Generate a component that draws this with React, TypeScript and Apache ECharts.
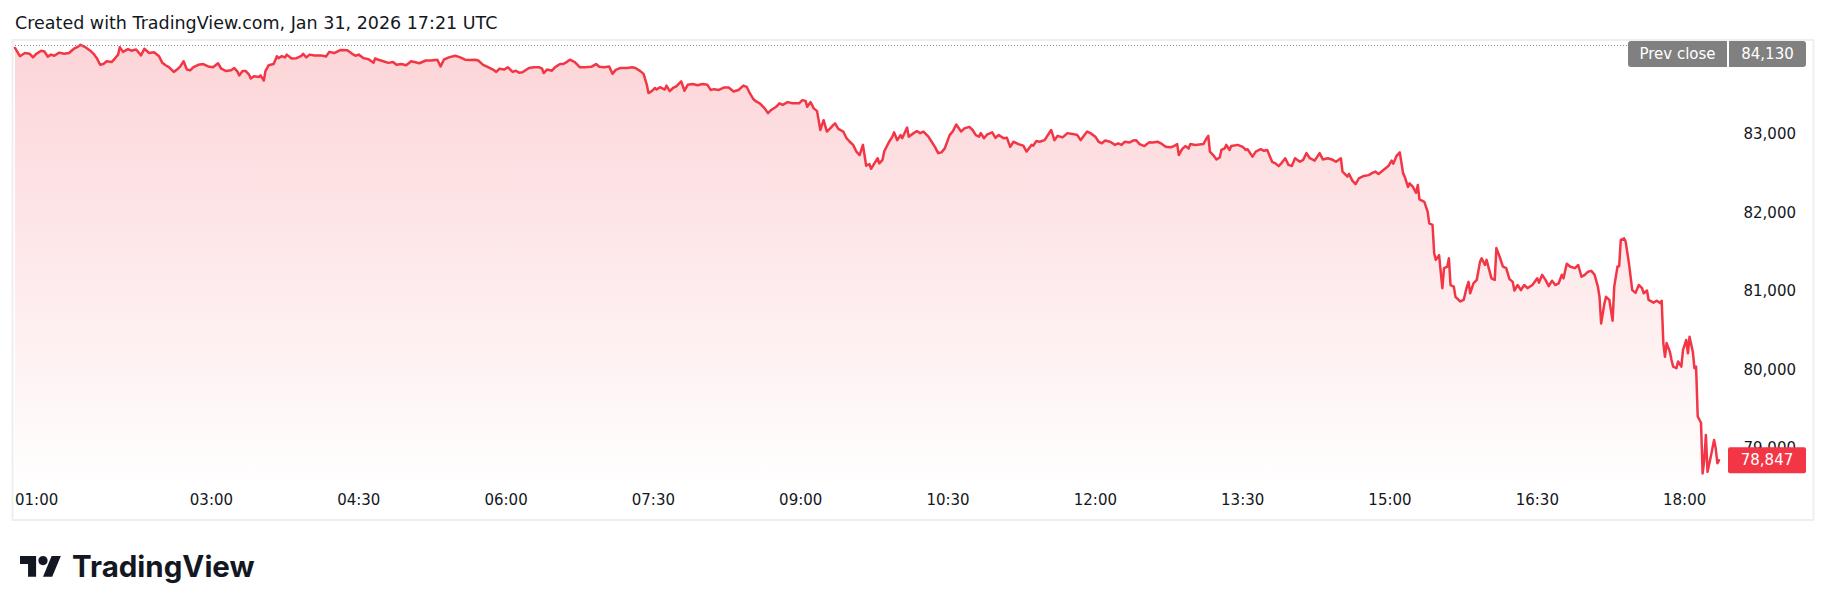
import React, { useEffect, useRef } from "react";
import * as echarts from "echarts";

// ---- data ----
const times = [
  "01:00","01:03","01:06","01:09","01:11","01:13","01:16","01:18","01:20","01:22","01:24","01:27","01:30","01:33","01:36","01:38","01:40","01:43","01:46","01:48","01:50","01:52","01:54","01:56","01:59",
  "02:01","02:03","02:04","02:06","02:09","02:11","02:14","02:17","02:19","02:22","02:25","02:28","02:30","02:32","02:34","02:37","02:39","02:41","02:43","02:45","02:47","02:49","02:52","02:55","02:58",
  "03:01","03:04","03:06","03:09","03:12","03:14","03:16","03:17","03:19","03:21","03:23","03:24","03:26","03:29","03:30","03:32","03:33","03:35","03:38","03:40","03:41","03:43","03:45","03:46","03:49","03:52","03:55","03:56","03:58",
  "04:00","04:03","04:07","04:10","04:12","04:15","04:19","04:23","04:26","04:28","04:30","04:33","04:36","04:39","04:40","04:42","04:45","04:48","04:51","04:53","04:56","04:59",
  "05:02","05:04","05:07","05:11","05:14","05:18","05:20","05:22","05:25","05:29","05:32","05:35","05:38","05:41","05:43","05:46","05:49","05:52","05:54","05:56","05:59",
  "06:01","06:04","06:06","06:08","06:10","06:14","06:17","06:20","06:22","06:23","06:25","06:28","06:30","06:33","06:35","06:37","06:39","06:42","06:45","06:48","06:52","06:55","06:57",
  "07:00","07:03","07:05","07:07","07:10","07:14","07:17","07:19","07:22","07:24","07:26","07:27","07:29","07:31","07:32","07:34","07:37","07:38","07:40","07:42","07:44","07:47","07:49","07:51","07:54","07:57",
  "08:00","08:03","08:05","08:07","08:10","08:13","08:16","08:19","08:22","08:25","08:27","08:29","08:31","08:33","08:35","08:38","08:40","08:42","08:45","08:47","08:49","08:52","08:55","08:59",
  "09:01","09:03","09:04","09:06","09:08","09:10","09:12","09:13","09:14","09:16","09:18","09:20","09:21","09:23","09:26","09:28","09:30","09:32","09:34","09:36","09:38","09:39","09:40","09:42","09:43","09:45","09:47","09:48","09:50","09:51","09:54","09:56","09:57","09:59",
  "10:01","10:02","10:05","10:06","10:09","10:11","10:13","10:15","10:18","10:20","10:22","10:24","10:26","10:28","10:31","10:33","10:35","10:38","10:40","10:43","10:45","10:47","10:49","10:50","10:52","10:54","10:57","10:59",
  "11:01","11:04","11:06","11:08","11:10","11:13","11:16","11:18","11:21","11:22","11:24","11:26","11:29","11:33","11:35","11:37","11:40","11:43","11:46","11:49","11:51","11:53","11:55","11:57",
  "12:00","12:02","12:04","12:06","12:09","12:12","12:14","12:16","12:18","12:21","12:23","12:25","12:27","12:30","12:33","12:35","12:38","12:40","12:43","12:46","12:48","12:50","12:51","12:53","12:55","12:57","12:58",
  "13:01","13:06","13:08","13:09","13:10","13:12","13:14","13:16","13:17","13:19","13:20","13:22","13:23","13:27","13:30","13:32","13:33","13:36","13:38","13:41","13:43","13:45","13:48","13:50","13:52","13:54","13:56","13:58",
  "14:00","14:02","14:05","14:07","14:09","14:11","14:14","14:17","14:19","14:22","14:25","14:27","14:30","14:31","14:34","14:35","14:37","14:39","14:41","14:44","14:47","14:49","14:51","14:53","14:56","14:59",
  "15:01","15:02","15:04","15:06","15:08","15:09","15:11","15:12","15:14","15:16","15:17","15:18","15:21","15:23","15:24","15:26","15:27","15:28","15:30","15:32","15:33","15:35","15:36","15:37","15:39","15:40","15:43","15:45","15:47","15:48","15:49","15:51","15:53","15:55","15:56","15:58","15:59",
  "16:02","16:04","16:05","16:07","16:09","16:11","16:13","16:15","16:16","16:18","16:20","16:22","16:24","16:27","16:30","16:31","16:33","16:35","16:37","16:39","16:41","16:43","16:45","16:46","16:48","16:50","16:53","16:55","16:57","16:59",
  "17:01","17:03","17:05","17:07","17:08","17:09","17:11","17:12","17:14","17:16","17:17","17:19","17:20","17:21","17:23","17:24","17:26","17:28","17:30","17:32","17:34","17:35","17:37","17:38","17:41","17:43","17:45","17:46","17:47","17:48","17:49","17:51","17:52","17:53","17:55","17:56","17:58","17:59",
  "18:01","18:02","18:03","18:05","18:06","18:07","18:08","18:10","18:11","18:12","18:13","18:14","18:16","18:18","18:19","18:20","18:21"
];

const prices = [
  84100,83995,84035,84025,83980,84025,84065,84055,83990,84015,84000,84040,84025,84035,84090,84110,84140,84110,84065,84025,83970,83885,83895,83930,83920,
  83965,84015,84110,84050,84085,84065,84080,84005,84090,84035,84045,83995,83910,83880,83855,83795,83825,83865,83930,83825,83815,83855,83885,83895,83865,
  83855,83905,83835,83805,83815,83845,83795,83750,83805,83805,83760,83710,83740,83730,83750,83685,83805,83880,83895,83995,83970,83995,83980,84015,83965,83970,84000,84025,83980,
  84015,84005,84005,83990,84050,84035,84075,84070,84025,84000,84015,83970,83955,83910,83965,83950,83930,83910,83920,83885,83895,83880,
  83930,83920,83905,83940,83940,83950,83865,83950,83980,84000,83980,83950,83945,83950,83940,83885,83855,83825,83795,83835,83825,
  83855,83795,83810,83785,83790,83845,83855,83855,83835,83780,83825,83810,83855,83895,83895,83920,83950,83920,83855,83855,83860,83895,83860,
  83855,83865,83770,83820,83845,83845,83855,83845,83805,83770,83630,83525,83550,83590,83570,83600,83570,83620,83550,83590,83610,83675,83555,83630,83640,83625,
  83640,83630,83565,83575,83565,83595,83595,83545,83565,83620,83605,83520,83450,83415,83395,83330,83270,83310,83350,83395,83375,83410,83395,83395,
  83435,83425,83350,83410,83330,83295,83055,83120,83180,83035,83075,83120,83140,83070,83035,82950,82905,82865,82780,82735,82865,82735,82600,82620,82560,82630,82695,82630,82675,82780,82905,82970,83025,82925,
  82990,82950,83085,82970,83015,83040,83015,83035,82970,82905,82840,82760,82770,82820,82990,83040,83125,83035,83075,83095,83055,82990,82970,83015,82950,83000,83025,82955,
  82990,82950,82955,82840,82905,82875,82855,82780,82865,82855,82915,82905,82925,83055,82925,82980,82960,83015,83005,82990,82925,82980,83035,83015,
  82970,82905,82885,82920,82905,82865,82885,82865,82905,82895,82920,82925,82875,82850,82900,82895,82905,82885,82840,82835,82850,82875,82735,82810,82850,82820,82875,
  82865,82875,82950,82980,82780,82735,82680,82705,82800,82820,82865,82800,82850,82865,82840,82800,82810,82715,82780,82810,82790,82800,82650,82630,82595,82640,82695,82610,
  82595,82695,82650,82675,82760,82695,82665,82760,82680,82695,82675,82650,82695,82525,82460,82495,82410,82365,82440,82470,82480,82505,82525,82495,82545,82595,
  82665,82625,82725,82770,82505,82460,82330,82375,82330,82255,82355,82170,82140,82015,81865,81845,81485,81400,81460,81040,81295,81315,81420,81080,81060,80930,80870,80890,81060,81120,80975,81100,81145,81375,81420,81335,81400,
  81165,81145,81550,81440,81315,81295,81155,81120,81010,81080,81015,81080,81040,81080,81165,81110,81210,81145,81065,81135,81080,81100,81210,81165,81350,81315,81295,81335,81185,81210,
  81250,81260,81210,81060,80930,80590,80845,80930,80890,80625,81060,81315,81320,81655,81675,81630,81355,81015,80980,81080,81040,80975,81010,80890,80855,80880,80850,80880,80340,80165,80340,80230,80125,80040,80020,80105,80040,80250,
  80380,80210,80420,80230,80020,80040,79405,79325,78680,78850,79170,78700,78895,79105,79000,78810,78847
];

const priceTicks = [79000, 80000, 81000, 82000, 83000];
const timeTicks = ["01:00", "03:00", "04:30", "06:00", "07:30", "09:00", "10:30", "12:00", "13:30", "15:00", "16:30", "18:00"];
const prevClose = 84130;
const lastPrice = 78847;
const titleText = "Created with TradingView.com, Jan 31, 2026 17:21 UTC";

const toMin = (s: string) => parseInt(s.slice(0, 2), 10) * 60 + parseInt(s.slice(3, 5), 10);
const fmtMin = (v: number) => {
  const h = Math.floor(v / 60);
  const m = Math.round(v - h * 60);
  return String(h).padStart(2, "0") + ":" + String(m).padStart(2, "0");
};
const fmtPrice = (v: number) => Math.round(v).toLocaleString("en-US");

const RED = "#f23645";
const TEXT = "#131722";
const AXIS_FONT = "'DejaVu Sans', Verdana, sans-serif";

export default function App() {
  const ref = useRef<HTMLDivElement>(null);

  useEffect(() => {
    if (!ref.current) return;
    const chart = echarts.init(ref.current, undefined, { renderer: "svg" });
    const xMin = 60;
    const xMax = 1106.5;
    const data = times.map((t, i) => [toMin(t), prices[i]]);

    chart.setOption({
      animation: false,
      backgroundColor: "#ffffff",
      grid: { left: 15, right: 102, top: 43, bottom: 131, containLabel: false },
      xAxis: {
        type: "value",
        min: xMin,
        max: xMax,
        axisLine: { show: false },
        axisTick: { show: false },
        splitLine: { show: false },
        axisLabel: {
          customValues: timeTicks.map(toMin),
          formatter: (v: number) => fmtMin(v),
          color: TEXT,
          fontFamily: AXIS_FONT,
          fontSize: 15,
          margin: 20,
          verticalAlign: "middle",
          alignMinLabel: "left",
          showMinLabel: true,
          showMaxLabel: true,
          hideOverlap: false,
        },
      },
      yAxis: {
        type: "value",
        position: "right",
        min: 78596,
        max: 84163,
        scale: true,
        axisLine: { show: false },
        axisTick: { show: false },
        splitLine: { show: false },
        axisLabel: {
          customValues: priceTicks,
          formatter: (v: number) => fmtPrice(v),
          color: TEXT,
          fontFamily: AXIS_FONT,
          fontSize: 15,
          align: "right",
          margin: 68,
        },
      },
      series: [
        {
          type: "line",
          data,
          showSymbol: false,
          symbol: "none",
          lineStyle: { color: RED, width: 2.5, join: "round", cap: "round" },
          itemStyle: { color: RED },
          areaStyle: {
            color: new echarts.graphic.LinearGradient(0, 0, 0, 1, [
              { offset: 0, color: "rgba(242,54,69,0.30)" },
              { offset: 1, color: "rgba(242,54,69,0.01)" },
            ]),
          },
          markLine: {
            silent: true,
            symbol: "none",
            label: { show: false },
            lineStyle: { color: "#8a8a8a", width: 1, type: [1, 2] },
            data: [{ yAxis: prevClose }],
          },
          z: 3,
        },
      ],
    });

    const yPrev = chart.convertToPixel({ yAxisIndex: 0 }, prevClose) as number;
    const yLast = chart.convertToPixel({ yAxisIndex: 0 }, lastPrice) as number;
    const xRight = chart.convertToPixel({ xAxisIndex: 0 }, xMax) as number;
    const boxTop = yPrev - 4.5;
    const s = 1.15;
    const lx = 20;
    const ly = 551.4;
    const P = (pts: number[][]) => pts.map(([a, b]) => [lx + a * s, ly + b * s]);

    chart.setOption({
      graphic: [
        {
          type: "rect",
          z: 0,
          silent: true,
          shape: { x: 12.5, y: 40, width: 1801, height: 480 },
          style: { fill: "none", stroke: "#efefef", lineWidth: 2 },
        },
        {
          type: "text",
          z: 100,
          x: 15,
          y: 23,
          style: { text: titleText, fill: TEXT, font: "17.5px 'DejaVu Sans', Verdana, sans-serif", verticalAlign: "middle", align: "left" },
        },
        // Prev close label
        {
          type: "rect",
          z: 100,
          shape: { x: xRight - 100, y: boxTop, width: 99, height: 26, r: [3, 0, 0, 3] },
          style: { fill: "#808080" },
        },
        {
          type: "rect",
          z: 100,
          shape: { x: xRight + 1, y: boxTop, width: 77, height: 26, r: [0, 3, 3, 0] },
          style: { fill: "#808080" },
        },
        {
          type: "text",
          z: 101,
          x: xRight - 50.5,
          y: boxTop + 13,
          style: { text: "Prev close", fill: "#ffffff", font: "15px 'DejaVu Sans', Verdana, sans-serif", align: "center", verticalAlign: "middle" },
        },
        {
          type: "text",
          z: 101,
          x: xRight + 39.5,
          y: boxTop + 13,
          style: { text: fmtPrice(prevClose), fill: "#ffffff", font: "15px 'DejaVu Sans', Verdana, sans-serif", align: "center", verticalAlign: "middle" },
        },
        // last price label
        {
          type: "rect",
          z: 100,
          shape: { x: xRight, y: yLast - 13, width: 78, height: 26, r: 2 },
          style: { fill: RED },
        },
        {
          type: "text",
          z: 101,
          x: xRight + 39,
          y: yLast,
          style: { text: fmtPrice(lastPrice), fill: "#ffffff", font: "15px 'DejaVu Sans', Verdana, sans-serif", align: "center", verticalAlign: "middle" },
        },
        // TradingView logo
        {
          type: "polygon",
          z: 100,
          shape: { points: P([[14, 22], [7, 22], [7, 11], [0, 11], [0, 4], [14, 4]]) },
          style: { fill: TEXT },
        },
        {
          type: "polygon",
          z: 100,
          shape: { points: P([[28, 22], [20, 22], [27.5, 4], [35.5, 4]]) },
          style: { fill: TEXT },
        },
        {
          type: "circle",
          z: 100,
          shape: { cx: lx + 20 * s, cy: ly + 8 * s, r: 4 * s },
          style: { fill: TEXT },
        },
        {
          type: "text",
          z: 100,
          x: 72,
          y: 566,
          style: { text: "TradingView", fill: TEXT, font: "bold 29.5px Inter, 'Noto Sans', sans-serif", align: "left", verticalAlign: "middle" },
        },
      ],
    });

    return () => chart.dispose();
  }, []);

  return (
    <div
      ref={ref}
      style={{ position: "absolute", left: 0, top: 0, width: 1830, height: 611, background: "#ffffff" }}
    />
  );
}
